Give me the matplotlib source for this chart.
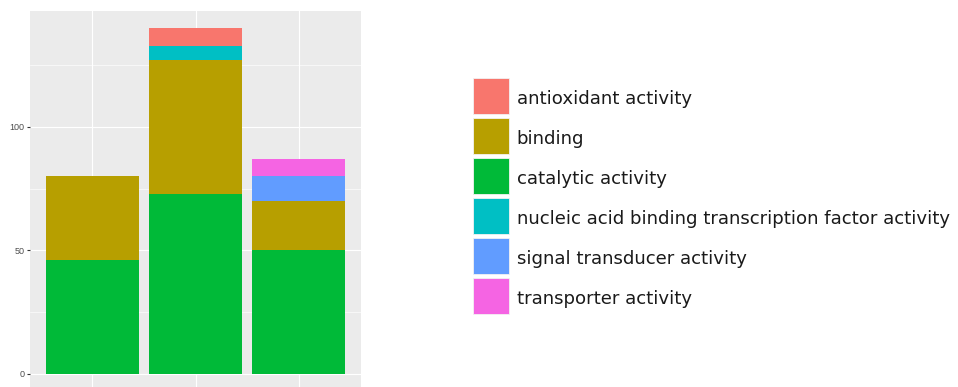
import numpy as np
import matplotlib
matplotlib.use("Agg")
import matplotlib.pyplot as plt
from matplotlib.patches import Rectangle

plt.rcParams['font.family'] = ['Liberation Sans', 'DejaVu Sans']

# counts per GO molecular-function term, one value per sample group
groups = ['A', 'B', 'C']
terms = ['antioxidant activity', 'binding', 'catalytic activity',
         'nucleic acid binding transcription factor activity',
         'signal transducer activity', 'transporter activity']
antioxidant = [0, 7, 0]
binding = [34, 54, 20]
catalytic = [46, 73, 50]
nucleic = [0, 6, 0]
signal = [0, 0, 10]
transporter = [0, 0, 7]

# ggplot default hue palette, same order as terms
colors = ['#F8766D', '#B79F00', '#00BA38', '#00BFC4', '#619CFF', '#F564E3']

series = dict(zip(terms, [antioxidant, binding, catalytic, nucleic, signal, transporter]))
term_color = dict(zip(terms, colors))
# order of the segments from the bottom of each bar upward
stack_order = ['catalytic activity', 'binding',
               'nucleic acid binding transcription factor activity',
               'antioxidant activity', 'signal transducer activity',
               'transporter activity']

W, H = 958, 387
fig = plt.figure(figsize=(W / 100, H / 100), dpi=100)
ax = fig.add_axes([30 / W, -4 / H, 331 / W, 380 / H])
ax.set_facecolor('#EBEBEB')

x = np.arange(1, len(groups) + 1)
bottom = np.zeros(len(groups))
for t in stack_order:
    vals = np.array(series[t], dtype=float)
    ax.bar(x, vals, width=0.9, bottom=bottom, color=term_color[t],
           linewidth=0, zorder=3)
    bottom += vals

ax.set_xlim(0.4, 3.6)
ax.set_ylim(-7, 147)
ax.set_xticks(x)
ax.set_xticklabels([])
ax.set_yticks([0, 50, 100])
ax.set_yticks([25, 75, 125], minor=True)
ax.grid(True, which='major', color='white', linewidth=0.85, zorder=0)
ax.grid(True, which='minor', axis='y', color='white', linewidth=0.45, zorder=0)
ax.set_axisbelow(True)
ax.tick_params(axis='y', which='major', length=2.5, width=0.8, color='#333333',
               labelsize=6.5, labelcolor='#4D4D4D', pad=1.5)
ax.tick_params(axis='y', which='minor', length=0)
ax.tick_params(axis='x', length=2.5, color='#333333')
for s in ax.spines.values():
    s.set_visible(False)

# legend: square keys with labels, laid out in pixels
key_x, key_y, key_w, key_h, pitch = 472.7, 78.3, 36.6, 36, 40
for i, (t, c) in enumerate(zip(terms, colors)):
    top = key_y + i * pitch
    fig.add_artist(Rectangle((key_x / W, 1 - (top + key_h) / H), key_w / W, key_h / H,
                             transform=fig.transFigure, facecolor=c,
                             edgecolor='#F2F2F2', linewidth=0.6))
    fig.text(516.7 / W, 1 - (top + 25.7) / H, t, fontsize=13.1,
             family='DejaVu Sans', color='#1A1A1A', va='baseline', ha='left')

fig.savefig('out.png', dpi=100)
